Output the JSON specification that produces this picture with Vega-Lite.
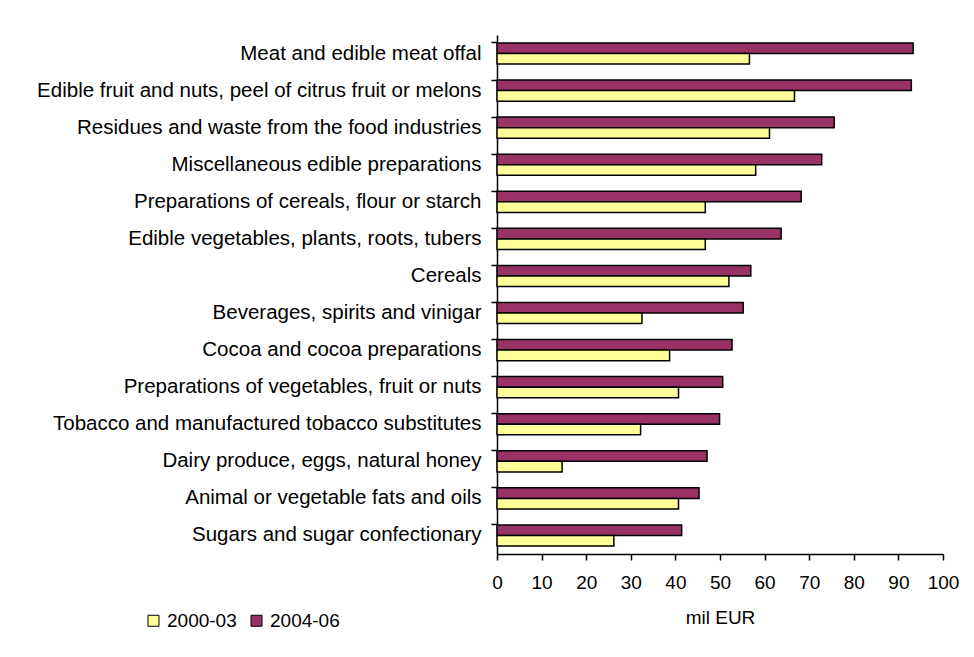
{
  "$schema": "https://vega.github.io/schema/vega-lite/v6.json",
  "autosize": {"type": "none"},
  "padding": {"left": 497, "top": 35, "right": 31, "bottom": 103},
  "width": 446,
  "height": 519,
  "background": "white",
  "config": {
    "view": {"stroke": null},
    "font": "Liberation Sans",
    "axis": {"labelFont": "Liberation Sans", "titleFont": "Liberation Sans", "labelColor": "black", "titleColor": "black", "domainColor": "black", "tickColor": "black", "domainWidth": 1.5, "tickWidth": 1.5, "grid": false},
    "legend": {"labelFont": "Liberation Sans"}
  },
  "data": {
    "values": [
      {"category": "Meat and edible meat offal", "series": "2004-06", "value": 93.3},
      {"category": "Meat and edible meat offal", "series": "2000-03", "value": 56.6},
      {"category": "Edible fruit and nuts, peel of citrus fruit or melons", "series": "2004-06", "value": 92.9},
      {"category": "Edible fruit and nuts, peel of citrus fruit or melons", "series": "2000-03", "value": 66.7},
      {"category": "Residues and waste from the food industries", "series": "2004-06", "value": 75.6},
      {"category": "Residues and waste from the food industries", "series": "2000-03", "value": 61.1},
      {"category": "Miscellaneous edible preparations", "series": "2004-06", "value": 72.8},
      {"category": "Miscellaneous edible preparations", "series": "2000-03", "value": 58.0},
      {"category": "Preparations of cereals, flour or starch", "series": "2004-06", "value": 68.2},
      {"category": "Preparations of cereals, flour or starch", "series": "2000-03", "value": 46.7},
      {"category": "Edible vegetables, plants, roots, tubers", "series": "2004-06", "value": 63.7},
      {"category": "Edible vegetables, plants, roots, tubers", "series": "2000-03", "value": 46.7},
      {"category": "Cereals", "series": "2004-06", "value": 56.9},
      {"category": "Cereals", "series": "2000-03", "value": 52.0},
      {"category": "Beverages, spirits and vinigar", "series": "2004-06", "value": 55.2},
      {"category": "Beverages, spirits and vinigar", "series": "2000-03", "value": 32.5},
      {"category": "Cocoa and cocoa preparations", "series": "2004-06", "value": 52.7},
      {"category": "Cocoa and cocoa preparations", "series": "2000-03", "value": 38.7},
      {"category": "Preparations of vegetables, fruit or nuts", "series": "2004-06", "value": 50.6},
      {"category": "Preparations of vegetables, fruit or nuts", "series": "2000-03", "value": 40.7},
      {"category": "Tobacco and manufactured tobacco substitutes", "series": "2004-06", "value": 49.9},
      {"category": "Tobacco and manufactured tobacco substitutes", "series": "2000-03", "value": 32.2},
      {"category": "Dairy produce, eggs, natural honey", "series": "2004-06", "value": 47.1},
      {"category": "Dairy produce, eggs, natural honey", "series": "2000-03", "value": 14.6},
      {"category": "Animal or vegetable fats and oils", "series": "2004-06", "value": 45.3},
      {"category": "Animal or vegetable fats and oils", "series": "2000-03", "value": 40.7},
      {"category": "Sugars and sugar confectionary", "series": "2004-06", "value": 41.4},
      {"category": "Sugars and sugar confectionary", "series": "2000-03", "value": 26.2}
    ]
  },
  "mark": {"type": "bar", "stroke": "black", "strokeWidth": 1.5},
  "encoding": {
    "y": {
      "field": "category",
      "type": "nominal",
      "sort": null,
      "scale": {"paddingInner": 0.43, "paddingOuter": 0.215},
      "axis": {"title": null, "bandPosition": 0, "tickSize": 6, "labelPadding": 10, "labelFontSize": 20.5, "labelLimit": 600}
    },
    "yOffset": {
      "field": "series",
      "type": "nominal",
      "sort": ["2004-06", "2000-03"]
    },
    "x": {
      "field": "value",
      "type": "quantitative",
      "scale": {"domain": [0, 100], "nice": false},
      "axis": {"title": "mil EUR", "values": [0,10,20,30,40,50,60,70,80,90,100], "tickSize": 6, "labelPadding": 13, "labelFontSize": 19, "titleFontSize": 19, "titleFontWeight": "normal", "titlePadding": 16, "labelFlush": false}
    },
    "color": {
      "field": "series",
      "type": "nominal",
      "scale": {"domain": ["2000-03", "2004-06"], "range": ["#FFFF99", "#993366"]},
      "legend": {
        "title": null,
        "orient": "none",
        "legendX": -353,
        "legendY": 576,
        "direction": "horizontal",
        "symbolType": "square",
        "symbolSize": 121,
        "symbolStrokeColor": "black",
        "symbolStrokeWidth": 1,
        "symbolOpacity": 1,
        "labelFontSize": 19,
        "labelColor": "black",
        "labelOffset": 4,
        "columnPadding": 10
      }
    }
  }
}
